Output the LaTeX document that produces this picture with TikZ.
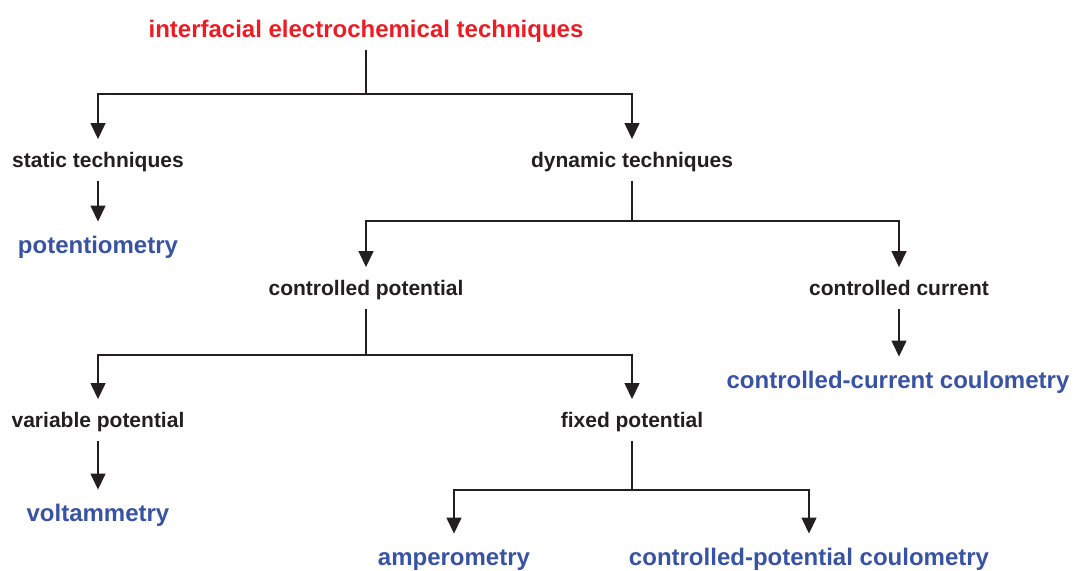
\documentclass[tikz,border=0pt]{standalone}
\usepackage{fontspec}
\setmainfont{Liberation Sans}
\usetikzlibrary{arrows.meta}
\definecolor{tred}{HTML}{ED1C24}
\definecolor{tblue}{HTML}{3953A4}
\definecolor{tblack}{HTML}{231F20}
\begin{document}
\begin{tikzpicture}[x=1pt,y=-1pt,
  cat/.style={font=\fontsize{21}{25}\selectfont\bfseries, text=tblack, text height=17pt, text depth=2.5pt, inner xsep=0pt, inner ysep=11pt},
  leaf/.style={font=\fontsize{24}{28}\selectfont\bfseries, text=tblue, text height=19.5pt, text depth=3pt, inner xsep=0pt, inner ysep=12pt},
  rootnode/.style={font=\fontsize{24}{28}\selectfont\bfseries, text=tred, text height=19.5pt, text depth=3pt, inner xsep=0pt, inner ysep=10pt},
  conn/.style={draw=tblack, line width=1.4pt},
  arr/.style={conn, -{Triangle[width=15pt,length=16pt]}}]
\useasboundingbox (0,0) rectangle (1075,570);
\node[rootnode] (root) at (366,29) {interfacial electrochemical techniques};
\node[cat] (static) at (98,160) {static techniques};
\node[cat] (dynamic) at (632,160) {dynamic techniques};
\node[leaf] (potentio) at (98,245) {potentiometry};
\node[cat] (cpot) at (366,288) {controlled potential};
\node[cat] (ccur) at (899,288) {controlled current};
\node[leaf] (cccoul) at (898,380) {controlled-current coulometry};
\node[cat] (varpot) at (98,420) {variable potential};
\node[cat] (fixpot) at (632,420) {fixed potential};
\node[leaf] (volt) at (98,513) {voltammetry};
\node[leaf] (ampero) at (454,557) {amperometry};
\node[leaf] (cpcoul) at (809,557) {controlled-potential coulometry};
\coordinate (j1) at (366,94);
\coordinate (j2) at (632,221);
\coordinate (j3) at (366,355);
\coordinate (j4) at (632,490);
\draw[conn] (root.south) -- (j1);
\draw[arr] (j1) -| (static.north);
\draw[arr] (j1) -| (dynamic.north);
\draw[arr] (static.south) -- (potentio.north);
\draw[conn] (dynamic.south) -- (j2);
\draw[arr] (j2) -| (cpot.north);
\draw[arr] (j2) -| (ccur.north);
\draw[arr] (ccur.south) -- (ccur.south |- cccoul.north);
\draw[conn] (cpot.south) -- (j3);
\draw[arr] (j3) -| (varpot.north);
\draw[arr] (j3) -| (fixpot.north);
\draw[arr] (varpot.south) -- (volt.north);
\draw[conn] (fixpot.south) -- (j4);
\draw[arr] (j4) -| (ampero.north);
\draw[arr] (j4) -| (cpcoul.north);
\end{tikzpicture}
\end{document}
